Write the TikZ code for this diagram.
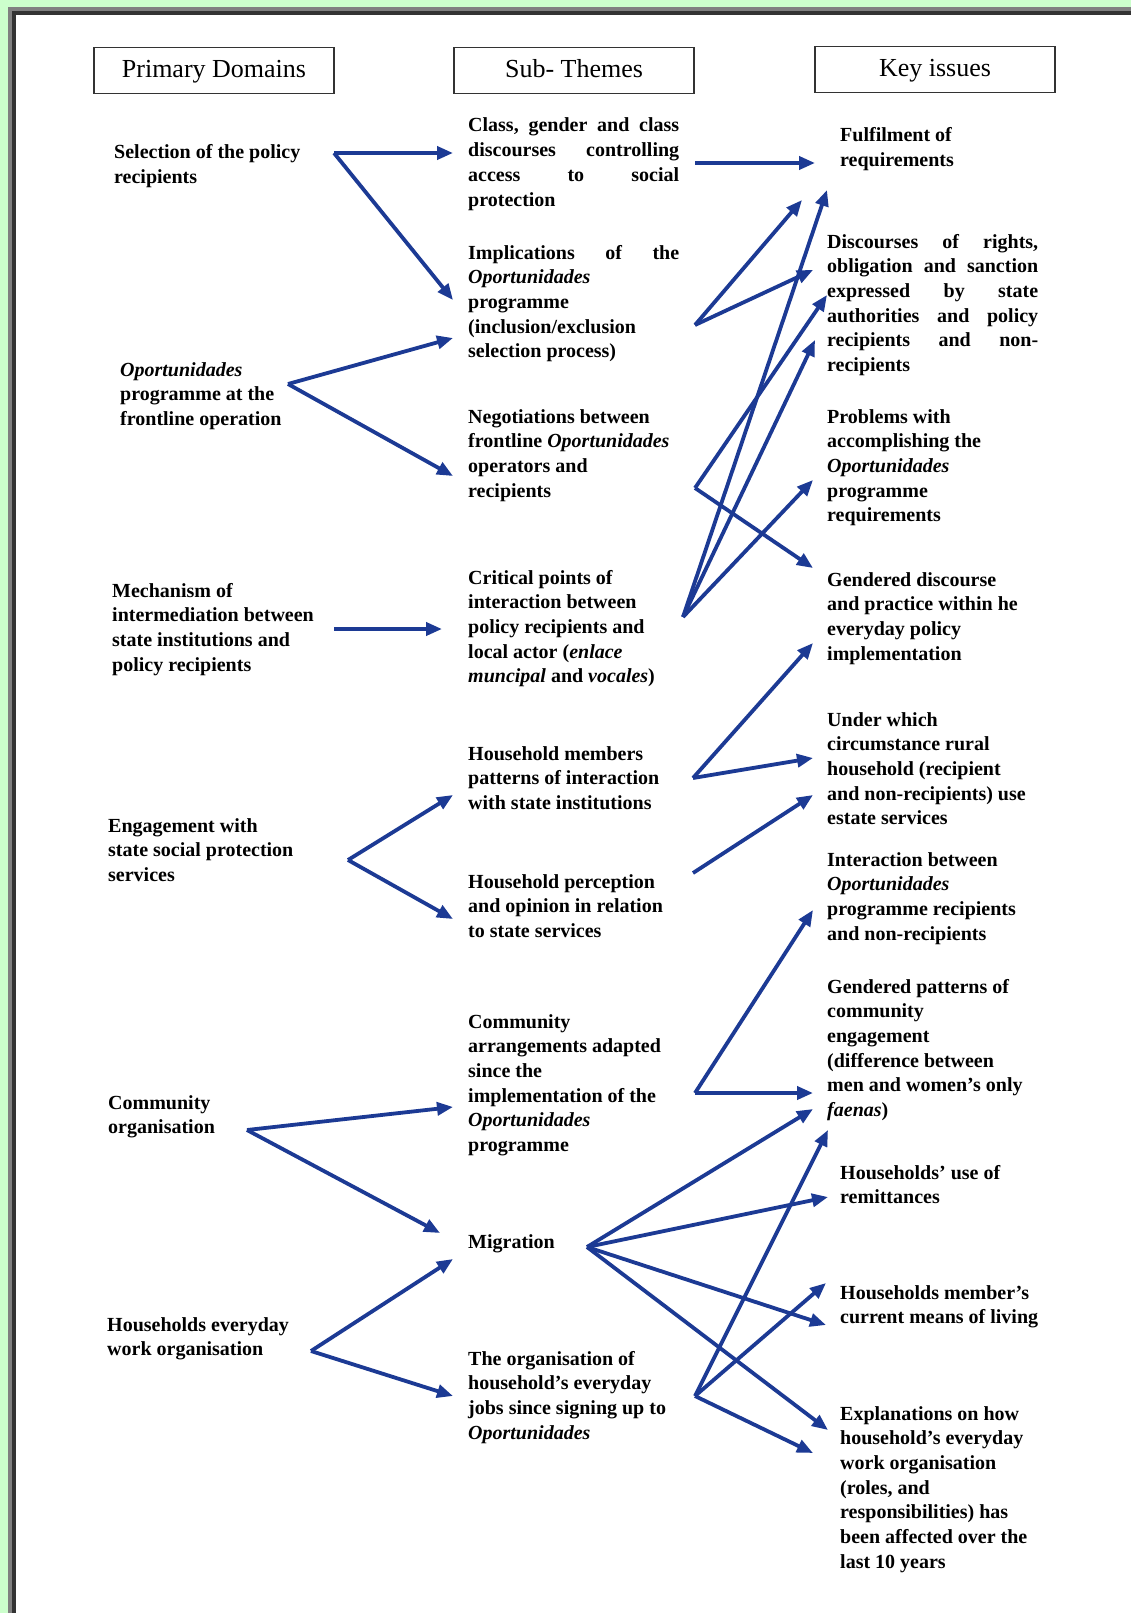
\documentclass[tikz,border=0pt]{standalone}
\usepackage{fontspec}
\setmainfont{Liberation Serif}
\usetikzlibrary{arrows.meta}
\definecolor{bggreen}{RGB}{204,255,204}
\definecolor{arrowblue}{RGB}{28,58,148}
\definecolor{framegray}{RGB}{128,128,128}
\definecolor{framedark}{RGB}{51,51,51}
\newcommand{\jline}[1]{\hbox to 211pt{#1}}
\begin{document}
\begin{tikzpicture}[x=1pt,y=-1pt,
  txt/.style={anchor=base west, align=left, inner sep=0pt, font=\fontsize{20}{24.7}\selectfont\bfseries},
  hdr/.style={draw=black!80, line width=1.2pt, minimum width=240pt, minimum height=46pt, inner sep=0pt, text height=18pt, text depth=4pt, font=\fontsize{26}{30}\selectfont},
  arr/.style={draw=arrowblue, line width=3.8pt, -{Triangle[length=16pt,width=13pt]}}]
\useasboundingbox (0,0) rectangle (1131,1613);
\fill[bggreen] (0,0) rectangle (1131,1613);
\fill[framegray] (8,7) rectangle (1131,1613);
\fill[framedark] (12,11) rectangle (1131,1613);
\fill[white] (16,15) rectangle (1131,1613);

% headers
\node[hdr] (h1) at (214,70.5) {Primary Domains};
\node[hdr] (h2) at (574,70.5) {Sub- Themes};
\node[hdr] (h3) at (935,69.5) {Key issues};

% left column (node base = baseline of last line)
\node[txt] (a1) at (114,183.7) {Selection of the policy\\recipients};
\node[txt] (a2) at (120,425.4) {\textit{Oportunidades}\\programme at the\\frontline operation};
\node[txt] (a3) at (112,671.1) {Mechanism of\\intermediation between\\state institutions and\\policy recipients};
\node[txt] (a4) at (108,881.4) {Engagement with\\state social protection\\services};
\node[txt] (a5) at (108,1133.7) {Community\\organisation};
\node[txt] (a6) at (107,1355.7) {Households everyday\\work organisation};

% middle column
\node[txt] (b1) at (468,206.1) {\jline{Class,\hfill gender\hfill and\hfill class}\\\jline{discourses\hfill controlling}\\\jline{access\hfill to\hfill social}\\protection};
\node[txt] (b2) at (468,357.8) {\jline{Implications\hfill of\hfill the}\\\textit{Oportunidades}\\programme\\(inclusion/exclusion\\selection process)};
\node[txt] (b3) at (468,497.1) {Negotiations between\\frontline \textit{Oportunidades}\\operators and\\recipients};
\node[txt] (b4) at (468,682.8) {Critical points of\\interaction between\\policy recipients and\\local actor (\textit{enlace}\\\textit{muncipal} and \textit{vocales})};
\node[txt] (b5) at (468,809.4) {Household members\\patterns of interaction\\with state institutions};
\node[txt] (b6) at (468,937.4) {Household perception\\and opinion in relation\\to state services};
\node[txt] (b7) at (468,1151.5) {Community\\arrangements adapted\\since the\\implementation of the\\\textit{Oportunidades}\\programme};
\node[txt] (b8) at (468,1248) {Migration};
\node[txt] (b9) at (468,1439.1) {The organisation of\\household's everyday\\jobs since signing up to\\\textit{Oportunidades}};

% right column
\node[txt] (c1) at (840,166.7) {Fulfilment of\\requirements};
\node[txt] (c2) at (827,371.5) {\jline{Discourses\hfill of\hfill rights,}\\\jline{obligation\hfill and\hfill sanction}\\\jline{expressed\hfill by\hfill state}\\\jline{authorities\hfill and\hfill policy}\\\jline{recipients\hfill and\hfill non-}\\recipients};
\node[txt] (c3) at (827,521.8) {Problems with\\accomplishing the\\\textit{Oportunidades}\\programme\\requirements};
\node[txt] (c4) at (827,660.1) {Gendered discourse\\and practice within he\\everyday policy\\implementation};
\node[txt] (c5) at (827,824.8) {Under which\\circumstance rural\\household (recipient\\and non-recipients) use\\estate services};
\node[txt] (c6) at (827,940.1) {Interaction between\\\textit{Oportunidades}\\programme recipients\\and non-recipients};
\node[txt] (c7) at (827,1116.5) {Gendered patterns of\\community\\engagement\\(difference between\\men and women's only\\\textit{faenas})};
\node[txt] (c8) at (840,1203.7) {Households' use of\\remittances};
\node[txt] (c9) at (840,1323.7) {Households member's\\current means of living};
\node[txt] (c10) at (840,1568.2) {Explanations on how\\household's everyday\\work organisation\\(roles, and\\responsibilities) has\\been affected over the\\last 10 years};

% connector points
\coordinate (v1) at (334,153); \coordinate (t1a) at (453,153); \coordinate (t1b) at (453,300);
\coordinate (v2) at (288,384); \coordinate (t2a) at (453,338); \coordinate (t2b) at (453,476);
\coordinate (v3) at (334,629); \coordinate (t3) at (442,629);
\coordinate (v4) at (348,860); \coordinate (t4a) at (453,795); \coordinate (t4b) at (453,919);
\coordinate (v5) at (247,1130); \coordinate (t5a) at (453,1107); \coordinate (t5b) at (440,1233);
\coordinate (v6) at (311,1351); \coordinate (t6a) at (453,1259); \coordinate (t6b) at (453,1396);
\coordinate (m1) at (695,163); \coordinate (m1a) at (815,163);
\coordinate (m2) at (695,325); \coordinate (m2a) at (802,200); \coordinate (m2b) at (813,270);
\coordinate (m3) at (695,488); \coordinate (m3a) at (827,295); \coordinate (m3b) at (813,568);
\coordinate (m4) at (683,617); \coordinate (m4a) at (827,190); \coordinate (m4b) at (815,340); \coordinate (m4c) at (813,480);
\coordinate (m5) at (693,778); \coordinate (m5a) at (813,643); \coordinate (m5b) at (813,758);
\coordinate (m6) at (693,873); \coordinate (m6a) at (813,795);
\coordinate (m7) at (695,1093); \coordinate (m7a) at (813,910); \coordinate (m7b) at (813,1093);
\coordinate (m8) at (587,1247); \coordinate (m8a) at (813,1109); \coordinate (m8b) at (828,1197); \coordinate (m8c) at (826,1325); \coordinate (m8d) at (828,1430);
\coordinate (m9) at (695,1396); \coordinate (m9a) at (828,1130); \coordinate (m9b) at (826,1283); \coordinate (m9c) at (813,1453);

% connectors
\draw[arr] (v1) -- (t1a); \draw[arr] (v1) -- (t1b);
\draw[arr] (v2) -- (t2a); \draw[arr] (v2) -- (t2b);
\draw[arr] (v3) -- (t3);
\draw[arr] (v4) -- (t4a); \draw[arr] (v4) -- (t4b);
\draw[arr] (v5) -- (t5a); \draw[arr] (v5) -- (t5b);
\draw[arr] (v6) -- (t6a); \draw[arr] (v6) -- (t6b);
\draw[arr] (m1) -- (m1a);
\draw[arr] (m2) -- (m2a); \draw[arr] (m2) -- (m2b);
\draw[arr] (m3) -- (m3a); \draw[arr] (m3) -- (m3b);
\draw[arr] (m4) -- (m4a); \draw[arr] (m4) -- (m4b); \draw[arr] (m4) -- (m4c);
\draw[arr] (m5) -- (m5a); \draw[arr] (m5) -- (m5b);
\draw[arr] (m6) -- (m6a);
\draw[arr] (m7) -- (m7a); \draw[arr] (m7) -- (m7b);
\draw[arr] (m8) -- (m8a); \draw[arr] (m8) -- (m8b); \draw[arr] (m8) -- (m8c); \draw[arr] (m8) -- (m8d);
\draw[arr] (m9) -- (m9a); \draw[arr] (m9) -- (m9b); \draw[arr] (m9) -- (m9c);
\end{tikzpicture}
\end{document}
